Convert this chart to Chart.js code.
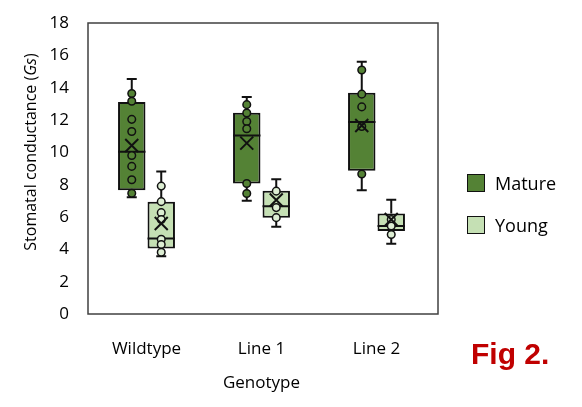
<!DOCTYPE html>
<html lang="en">
<head>
<meta charset="UTF-8">
<title>Fig 2 - Stomatal conductance</title>
<script src="https://cdn.jsdelivr.net/npm/chart.js"></script>
<style>
  body { margin: 0; background: #fff; font-family: "Open Sans", sans-serif; }
  #wrap { position: relative; width: 582px; height: 407px; }
  #legend { position: absolute; left: 467px; top: 173px; }
  .item { display: flex; align-items: center; height: 20px; margin-bottom: 22px; font-size: 18px; color: #000; }
  .swatch { width: 16px; height: 16px; border: 1.5px solid #111; margin-right: 10px; }
  #fig { position: absolute; left: 471px; top: 337px; font: bold 30px "Liberation Sans", Arial, sans-serif; color: #C00000; }
</style>
</head>
<body>
<div id="wrap">
  <canvas id="box" width="582" height="407"></canvas>
  <div id="legend"></div>
  <div id="fig">Fig 2.</div>
</div>

<script>
  const genotypes = ["Wildtype", "Line 1", "Line 2"];
  const yTicks = [0, 2, 4, 6, 8, 10, 12, 14, 16, 18];

  // Mature leaves
  const matureMin = [7.22, 7.0, 7.66];
  const matureQ1 = [7.66, 8.07, 8.86];
  const matureMedian = [10.04, 11.04, 11.87];
  const matureQ3 = [13.12, 12.45, 13.68];
  const matureMax = [14.53, 13.43, 15.61];
  const matureMean = [10.42, 10.57, 11.66];
  const maturePoints = [
    [13.64, 13.16, 12.04, 11.29, 9.8, 9.13, 8.3, 7.47],
    [12.95, 12.43, 11.91, 11.46, 8.07, 7.45],
    [15.09, 13.6, 12.81, 11.6, 8.66]
  ];

  // Young leaves
  const youngMin = [3.57, 5.4, 4.34];
  const youngQ1 = [4.05, 5.96, 5.13];
  const youngMedian = [4.67, 6.66, 5.44];
  const youngQ3 = [6.95, 7.62, 6.21];
  const youngMax = [8.82, 8.34, 7.06];
  const youngMean = [5.6, 7.05, 5.85];
  const youngPoints = [
    [7.91, 6.95, 6.27, 5.85, 4.62, 4.3, 3.82],
    [7.6, 6.58, 5.96],
    [5.85, 5.44, 4.92]
  ];

  const series = [
    { label: "Mature", fill: "#548235", dot: "#548235", min: matureMin, q1: matureQ1, med: matureMedian, q3: matureQ3, max: matureMax, mean: matureMean, pts: maturePoints },
    { label: "Young", fill: "#C5E0B4", dot: "#DDEED3", min: youngMin, q1: youngQ1, med: youngMedian, q3: youngQ3, max: youngMax, mean: youngMean, pts: youngPoints }
  ];

  // whiskers, median, points and mean cross on top of the floating bars
  const boxParts = {
    id: "boxParts",
    afterDatasetsDraw(chart) {
      const ctx = chart.ctx;
      const y = chart.scales.y;
      series.forEach((s, d) => {
        chart.getDatasetMeta(d).data.forEach((bar, i) => {
          const x = bar.x, half = bar.width / 2;
          ctx.save();
          ctx.strokeStyle = "#111";
          ctx.lineWidth = 2;
          ctx.beginPath();
          ctx.moveTo(x, y.getPixelForValue(s.q3[i]));
          ctx.lineTo(x, y.getPixelForValue(s.max[i]));
          ctx.moveTo(x, y.getPixelForValue(s.q1[i]));
          ctx.lineTo(x, y.getPixelForValue(s.min[i]));
          ctx.moveTo(x - 5, y.getPixelForValue(s.max[i]));
          ctx.lineTo(x + 5, y.getPixelForValue(s.max[i]));
          ctx.moveTo(x - 5, y.getPixelForValue(s.min[i]));
          ctx.lineTo(x + 5, y.getPixelForValue(s.min[i]));
          ctx.moveTo(x - half, y.getPixelForValue(s.med[i]));
          ctx.lineTo(x + half, y.getPixelForValue(s.med[i]));
          ctx.stroke();

          ctx.lineWidth = 1.5;
          ctx.fillStyle = s.dot;
          s.pts[i].forEach(v => {
            ctx.beginPath();
            ctx.arc(x, y.getPixelForValue(v), 3.8, 0, Math.PI * 2);
            ctx.fill();
            ctx.stroke();
          });

          const my = y.getPixelForValue(s.mean[i]);
          ctx.lineWidth = 2;
          ctx.beginPath();
          ctx.moveTo(x - 6.5, my - 6.5);
          ctx.lineTo(x + 6.5, my + 6.5);
          ctx.moveTo(x + 6.5, my - 6.5);
          ctx.lineTo(x - 6.5, my + 6.5);
          ctx.stroke();
          ctx.restore();
        });
      });
    }
  };

  // plot frame and y title with italic Gs
  const frame = {
    id: "frame",
    afterDraw(chart) {
      const ctx = chart.ctx, a = chart.chartArea;
      ctx.save();
      ctx.strokeStyle = "#404040";
      ctx.lineWidth = 1.5;
      ctx.strokeRect(a.left - 1, a.top, 438 - a.left + 1, a.bottom - a.top);

      ctx.translate(31, 152);
      ctx.rotate(-Math.PI / 2);
      ctx.fillStyle = "#000";
      ctx.textBaseline = "middle";
      const parts = [["Stomatal conductance (", ""], ["Gs", "italic "], [")", ""]];
      let total = 0;
      parts.forEach(p => { ctx.font = p[1] + '16px "Open Sans"'; total += ctx.measureText(p[0]).width; });
      let px = -total / 2;
      parts.forEach(p => {
        ctx.font = p[1] + '16px "Open Sans"';
        ctx.fillText(p[0], px, 0);
        px += ctx.measureText(p[0]).width;
      });
      ctx.restore();
    }
  };

  new Chart(document.getElementById("box"), {
    type: "bar",
    data: {
      labels: genotypes,
      datasets: series.map(s => ({
        label: s.label,
        data: genotypes.map((g, i) => [s.q1[i], s.q3[i]]),
        backgroundColor: s.fill,
        borderColor: "#111",
        borderWidth: 2,
        borderSkipped: false,
        categoryPercentage: 0.513,
        barPercentage: 0.93
      }))
    },
    options: {
      responsive: false,
      animation: false,
      layout: { padding: { left: 0, right: 148, top: 23, bottom: 0 } },
      plugins: { legend: { display: false }, tooltip: { enabled: false } },
      scales: {
        x: {
          grid: { display: false },
          border: { display: false },
          ticks: { color: "#000", font: { family: "Open Sans", size: 17 }, padding: 17 },
          title: { display: true, text: "Genotype", color: "#000", font: { family: "Open Sans", size: 17 }, padding: { top: 0, bottom: 14 } },
          afterFit: s => { s.height = 93; }
        },
        y: {
          min: 0,
          max: 18,
          afterBuildTicks: s => { s.ticks = yTicks.map(v => ({ value: v })); },
          grid: { display: false },
          border: { display: false },
          ticks: { color: "#000", font: { family: "Open Sans", size: 17 }, padding: 12 },
          afterFit: s => { s.width = 89; }
        }
      }
    },
    plugins: [boxParts, frame]
  });

  const legend = document.getElementById("legend");
  series.forEach(s => {
    const item = document.createElement("div");
    item.className = "item";
    const sw = document.createElement("span");
    sw.className = "swatch";
    sw.style.background = s.fill;
    item.appendChild(sw);
    item.appendChild(document.createTextNode(s.label));
    legend.appendChild(item);
  });
</script>
</body>
</html>
